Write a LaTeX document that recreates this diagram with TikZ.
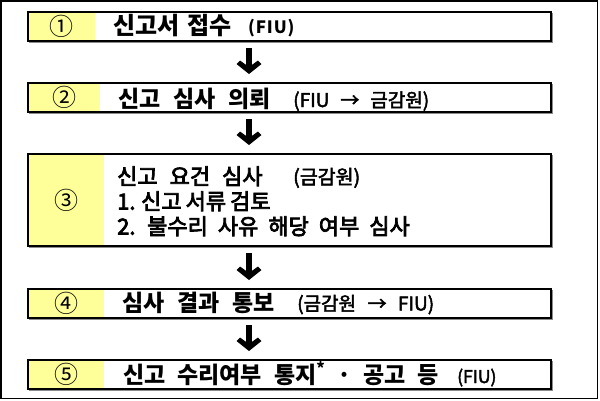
\documentclass[tikz,border=0pt]{standalone}
\usepackage{fontspec}
\setmainfont{Noto Sans CJK KR}
\newfontfamily\krmed{Noto Sans CJK KR}[FakeBold=3.5]
\newfontfamily\krpar{Noto Sans CJK KR}[FakeBold=2.5]
\usetikzlibrary{calc}
\definecolor{yel}{RGB}{255,255,153}
\definecolor{shad}{RGB}{140,140,140}

\newcommand\flowbox[5]{%
  \draw[shad, line width=1.5pt] (29.3,#2+1.3) rectangle (552.3,#2+#3+1.3);
  \node[box, minimum height=#3] (#1) at (28,#2) {};
  \fill[yel] (29,#2+1) rectangle (#4,#2+#3-1);
  \node[numlbl] (#1n) at ({(28+#4)/2},{#2+#3/2}) {#5};
}
\newcommand\flowarrow[2]{%
  \coordinate (arT) at ($(#1.south -| ax)+(0,7)$);
  \coordinate (arB) at ($(#2.north -| ax)+(0,-9)$);
  \fill[black] ($(arT)+(-3,0)$) rectangle ($(arB)+(3,-6)$);
  \fill[black] (arB) -- ++(-12.5,-10) -- ++(3.5,-3.5) -- ++(9,6.5) -- ++(9,-6.5) -- ++(3.5,3.5) -- cycle;
}

\begin{document}
\begin{tikzpicture}[x=1pt,y=-1pt,
  box/.style={draw=black, line width=2pt, fill=white, inner sep=0pt, outer sep=0pt,
    minimum width=523pt, anchor=north west},
  mainlbl/.style={inner sep=0pt, anchor=base west, font=\bfseries\fontsize{23}{27}\selectfont},
  medlbl/.style={inner sep=0pt, anchor=base west, font=\krpar\fontsize{19}{23}\selectfont},
  bodylbl/.style={inner sep=0pt, anchor=base west, font=\krmed\fontsize{22}{26}\selectfont},
  numlbl/.style={inner sep=0pt, font=\fontsize{24}{28}\selectfont},
]
\useasboundingbox (0,0) rectangle (600,400);
\fill[white] (0,0) rectangle (600,400);
\draw[line width=1.5pt] (0.75,0.75) rectangle (597.5,398.5);
\coordinate (ax) at (249,0);

\flowbox{b1}{12}{29}{95}{①}
\flowbox{b2}{83}{29}{100}{②}
\flowbox{b3}{154}{92}{104}{③}
\flowbox{b4}{289}{29}{104}{④}
\flowbox{b5}{360}{29}{104}{⑤}

\node[mainlbl, font=\bfseries\fontsize{24}{28}\selectfont] (t1) at (113,34.5) {\spaceskip=8pt 신고서 접수};
\node[mainlbl, font=\bfseries\fontsize{17}{20}\selectfont\addfontfeature{LetterSpace=5}] (p1) at (248,33.5) {(FIU)};

\node[mainlbl] (t2) at (118,107.5) {\spaceskip=13pt 신고 심사 의뢰};
\node[medlbl] (p2) at (293,107) {\spaceskip=11pt (FIU → 금감원)};

\node[bodylbl] (t3a) at (117,184.5) {\spaceskip=12pt 신고 요건 심사};
\node[medlbl, font=\krpar\fontsize{19.5}{23}\selectfont] (p3) at (293,184) {(금감원)};
\node[bodylbl] (t3b) at (117,209.5) {\spaceskip=4pt 1. 신고 서류 검토};
\node[bodylbl] (t3c) at (117,234.5) {\spaceskip=10pt 2. 불수리 사유 해당 여부 심사};

\node[mainlbl] (t4) at (122,311) {\spaceskip=13pt 심사 결과 통보};
\node[medlbl] (p4) at (297,310.5) {\spaceskip=11.5pt (금감원 → FIU)};

\node[mainlbl] (t5) at (123,383.5) {\spaceskip=12pt 신고 수리여부 통지\textsuperscript{*} · 공고 등};
\node[medlbl, font=\krpar\fontsize{17.5}{21}\selectfont] (p5) at (457,383) {(FIU)};

\flowarrow{b1}{b2}
\flowarrow{b2}{b3}
\flowarrow{b3}{b4}
\flowarrow{b4}{b5}
\end{tikzpicture}
\end{document}
